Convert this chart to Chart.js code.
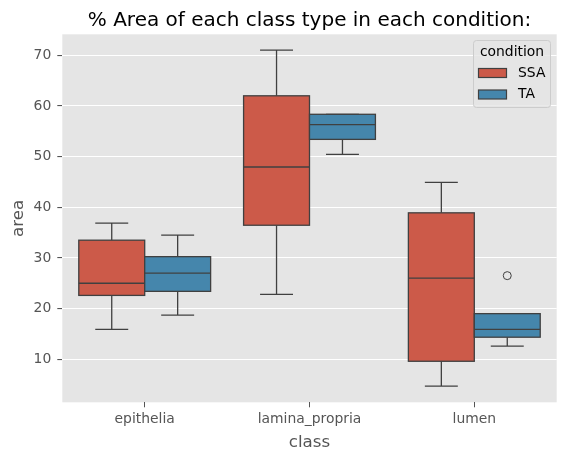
<!DOCTYPE html>
<html>
<head>
<meta charset="utf-8">
<script src="https://cdn.jsdelivr.net/npm/chart.js@4.4.1/dist/chart.umd.min.js"></script>
<style>
  body { margin: 0; background: #fff; }
  canvas { display: block; }
</style>
</head>
<body>
<canvas id="boxChart" width="566" height="460"></canvas>
<script>
// Categories and hue levels
const classes = ['epithelia', 'lamina_propria', 'lumen'];
const conditions = ['SSA', 'TA'];
const conditionColors = ['#CC5A49', '#4586AC'];

// Box statistics: lower whisker, Q1, median, Q3, upper whisker
const ssaLow = [15.9, 22.8, 4.7];
const ssaQ1 = [22.6, 36.45, 9.6];
const ssaMedian = [25.0, 47.95, 26.0];
const ssaQ3 = [33.5, 62.0, 38.9];
const ssaHigh = [36.85, 71.0, 44.9];

const taLow = [18.7, 50.45, 12.6];
const taQ1 = [23.4, 53.4, 14.35];
const taMedian = [27.0, 56.3, 15.9];
const taQ3 = [30.25, 58.35, 19.0];
const taHigh = [34.5, 58.35, 19.0];

// Fliers per class
const ssaOutliers = [[], [], []];
const taOutliers = [[], [], [26.5]];

// Tick labels
const yTicks = [10, 20, 30, 40, 50, 60, 70];

const boxStats = [
    { low: ssaLow, q1: ssaQ1, med: ssaMedian, q3: ssaQ3, high: ssaHigh },
    { low: taLow, q1: taQ1, med: taMedian, q3: taQ3, high: taHigh }
];
const hueOffsets = [-0.2, 0.2];
const boxHalf = 0.2;
const capHalf = 0.1;
const edgeColor = '#404040';
const FONT = '"DejaVu Sans", sans-serif';

function outlierPoints(list, h) {
    const pts = [];
    list.forEach((vals, i) => vals.forEach(v => pts.push({ x: i + hueOffsets[h], y: v })));
    return pts;
}

// Draws background, boxes, whiskers, medians
const boxPlugin = {
    id: 'boxPlugin',
    beforeDraw(chart) {
        const { ctx, chartArea: a } = chart;
        ctx.save();
        ctx.fillStyle = '#E5E5E5';
        ctx.fillRect(a.left, a.top, a.right - a.left, a.bottom - a.top);
        ctx.restore();
    },
    beforeDatasetsDraw(chart) {
        const ctx = chart.ctx;
        const xs = chart.scales.x, ys = chart.scales.y;
        ctx.save();
        ctx.lineWidth = 1.3;
        ctx.strokeStyle = edgeColor;
        boxStats.forEach((s, h) => {
            classes.forEach((c, i) => {
                const cx = i + hueOffsets[h];
                const x0 = xs.getPixelForValue(cx - boxHalf);
                const x1 = xs.getPixelForValue(cx + boxHalf);
                const xm = xs.getPixelForValue(cx);
                const c0 = xs.getPixelForValue(cx - capHalf);
                const c1 = xs.getPixelForValue(cx + capHalf);
                const yLow = ys.getPixelForValue(s.low[i]);
                const yQ1 = ys.getPixelForValue(s.q1[i]);
                const yMed = ys.getPixelForValue(s.med[i]);
                const yQ3 = ys.getPixelForValue(s.q3[i]);
                const yHigh = ys.getPixelForValue(s.high[i]);

                // whiskers and caps
                ctx.beginPath();
                ctx.moveTo(xm, yQ1); ctx.lineTo(xm, yLow);
                ctx.moveTo(xm, yQ3); ctx.lineTo(xm, yHigh);
                ctx.moveTo(c0, yLow); ctx.lineTo(c1, yLow);
                ctx.moveTo(c0, yHigh); ctx.lineTo(c1, yHigh);
                ctx.stroke();

                // box
                ctx.fillStyle = conditionColors[h];
                ctx.fillRect(x0, yQ3, x1 - x0, yQ1 - yQ3);
                ctx.strokeRect(x0, yQ3, x1 - x0, yQ1 - yQ3);

                // median
                ctx.beginPath();
                ctx.moveTo(x0, yMed); ctx.lineTo(x1, yMed);
                ctx.stroke();
            });
        });
        ctx.restore();
    },
    afterDraw(chart) {
        const { ctx, chartArea: a } = chart;
        ctx.save();
        // title
        ctx.fillStyle = '#000';
        ctx.font = '20px ' + FONT;
        ctx.textAlign = 'center';
        ctx.textBaseline = 'alphabetic';
        ctx.fillText('% Area of each class type in each condition:', (a.left + a.right) / 2, 26);

        // axis titles
        ctx.fillStyle = '#555555';
        ctx.font = '16.7px ' + FONT;
        ctx.textBaseline = 'middle';
        ctx.fillText('class', (a.left + a.right) / 2, 443);
        ctx.translate(19, (a.top + a.bottom) / 2);
        ctx.rotate(-Math.PI / 2);
        ctx.fillText('area', 0, 0);
        ctx.restore();

        // legend
        ctx.save();
        ctx.fillStyle = 'rgba(229,229,229,0.8)';
        ctx.strokeStyle = '#CCCCCC';
        ctx.lineWidth = 1;
        ctx.beginPath();
        ctx.roundRect(473.5, 40.5, 77, 67, 3);
        ctx.fill();
        ctx.stroke();
        ctx.fillStyle = '#000';
        ctx.font = '13.9px ' + FONT;
        ctx.textAlign = 'center';
        ctx.textBaseline = 'middle';
        ctx.fillText('condition', 512, 52);
        ctx.textAlign = 'left';
        conditions.forEach((name, h) => {
            const yc = 73 + h * 21.5;
            ctx.fillStyle = conditionColors[h];
            ctx.fillRect(478.5, yc - 4.5, 28, 9);
            ctx.strokeStyle = edgeColor;
            ctx.lineWidth = 1.2;
            ctx.strokeRect(478.5, yc - 4.5, 28, 9);
            ctx.fillStyle = '#000';
            ctx.fillText(name, 518, yc);
        });
        ctx.restore();
    }
};

const ctx = document.getElementById('boxChart').getContext('2d');
const boxChart = new Chart(ctx, {
    type: 'scatter',
    data: {
        datasets: conditions.map((name, h) => ({
            label: name,
            data: outlierPoints(h === 0 ? ssaOutliers : taOutliers, h),
            pointStyle: 'circle',
            pointRadius: 4,
            pointHoverRadius: 4,
            backgroundColor: 'rgba(0,0,0,0)',
            borderColor: edgeColor,
            borderWidth: 1
        }))
    },
    options: {
        responsive: false,
        animation: false,
        devicePixelRatio: 1,
        layout: { padding: { top: 34.3, right: 9.3, left: 0, bottom: 0 } },
        plugins: {
            legend: { display: false },
            tooltip: { enabled: false }
        },
        scales: {
            x: {
                type: 'linear',
                min: -0.5,
                max: 2.5,
                afterBuildTicks: s => { s.ticks = classes.map((c, i) => ({ value: i })); },
                afterFit: s => { s.height = 57.7; },
                ticks: {
                    callback: v => classes[v],
                    color: '#555555',
                    font: { family: FONT, size: 13.9 },
                    padding: 4,
                    maxRotation: 0,
                    autoSkip: false
                },
                grid: { drawOnChartArea: false, tickColor: '#555555', tickLength: 5 },
                border: { display: false }
            },
            y: {
                min: 1.5,
                max: 74.14,
                afterBuildTicks: s => { s.ticks = yTicks.map(v => ({ value: v })); },
                afterFit: s => { s.width = 62.3; },
                ticks: {
                    color: '#555555',
                    font: { family: FONT, size: 13.9 },
                    padding: 6
                },
                grid: { color: '#FFFFFF', lineWidth: 1.1, tickColor: '#555555', tickLength: 5 },
                border: { display: false }
            }
        }
    },
    plugins: [boxPlugin]
});
</script>
</body>
</html>
